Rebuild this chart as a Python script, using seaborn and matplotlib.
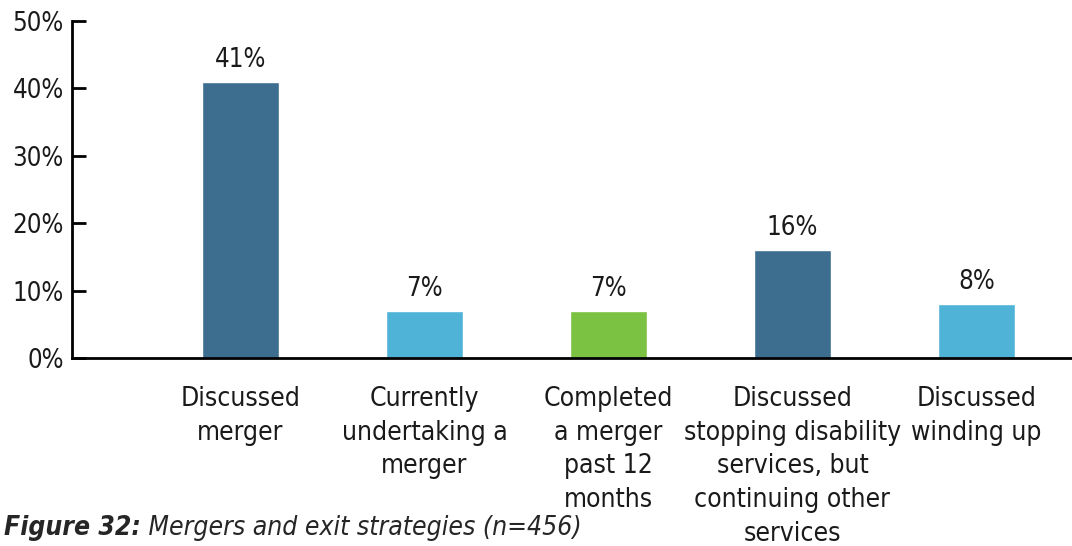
import matplotlib
matplotlib.use("Agg")
import matplotlib.pyplot as plt
import seaborn as sns
import pandas as pd

# Data
categories = [
    "Discussed\nmerger",
    "Currently\nundertaking a\nmerger",
    "Completed\na merger\npast 12\nmonths",
    "Discussed\nstopping disability\nservices, but\ncontinuing other\nservices",
    "Discussed\nwinding up",
]
values = [41, 7, 7, 16, 8]
bar_colors = ["#3d6d8f", "#4fb3d8", "#7bc142", "#3d6d8f", "#4fb3d8"]
y_ticks = [0, 10, 20, 30, 40, 50]
caption_bold = "Figure 32:"
caption_rest = " Mergers and exit strategies (n=456)"

df = pd.DataFrame({"category": categories, "value": values})

sns.set_style("white")
plt.rcParams["font.family"] = ["DejaVu Sans"]
plt.rcParams["font.stretch"] = "condensed"

fig = plt.figure(figsize=(10.72, 5.46), dpi=100)
ax = fig.add_axes([0.0672, 0.3443, 0.9328, 0.6172])

sns.barplot(data=df, x="category", y="value", hue="category",
            palette=bar_colors, width=0.42, legend=False, ax=ax,
            saturation=1)

for i, v in enumerate(values):
    ax.text(i, v + 1.3, f"{v}%", ha="center", va="bottom", fontsize=18.5,
            color="#1a1a1a")

ax.set_xlim(-0.916, 4.52)
ax.set_ylim(0, 50)
ax.set_yticks(y_ticks)
ax.set_yticklabels([f"{t}%" for t in y_ticks], fontsize=18.5, color="#1a1a1a")
ax.set_xticks(range(len(categories)))
ax.set_xticklabels(categories, fontsize=19, color="#1a1a1a", linespacing=1.39)
ax.set_xlabel("")
ax.set_ylabel("")

for side in ["top", "right"]:
    ax.spines[side].set_visible(False)
for side in ["left", "bottom"]:
    ax.spines[side].set_color("black")
    ax.spines[side].set_linewidth(2)

ax.tick_params(axis="y", direction="in", length=10, width=2, color="black", pad=6,
               left=True)
ax.tick_params(axis="x", length=0, pad=20)

# caption along the bottom edge
t1 = fig.text(0.004, 0.02, caption_bold, fontsize=19, fontweight="bold",
              fontstyle="italic", va="baseline", ha="left")
fig.canvas.draw()
bb = t1.get_window_extent()
x_next = bb.x1 / fig.bbox.width
fig.text(x_next, 0.02, caption_rest, fontsize=19, fontstyle="italic",
         va="baseline", ha="left")

fig.savefig("out.png", dpi=100)
